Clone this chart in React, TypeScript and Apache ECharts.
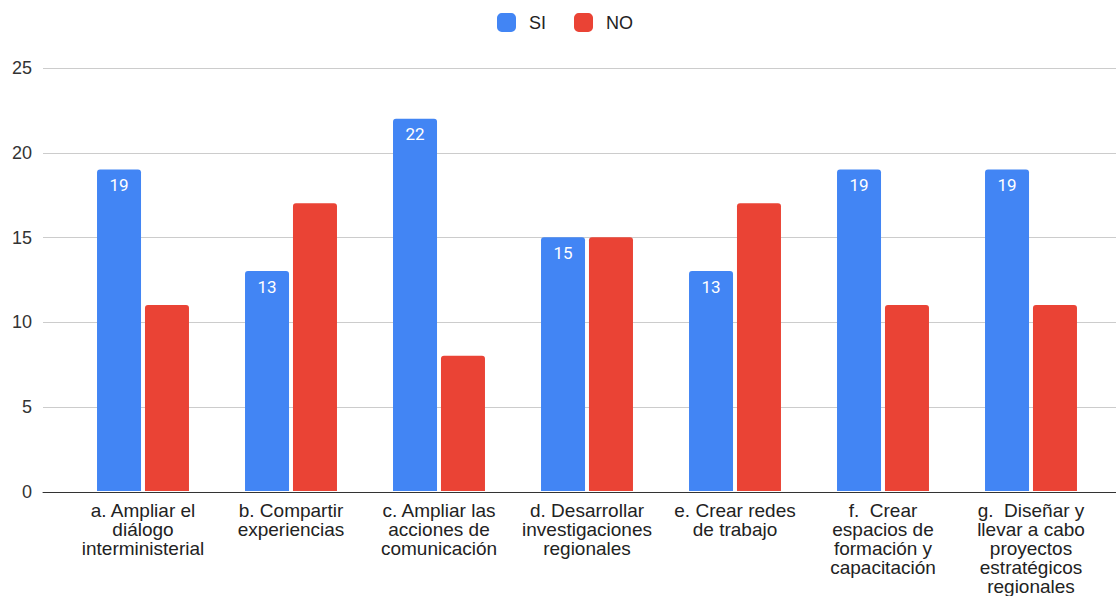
import React, { useEffect, useRef } from "react";
import * as echarts from "echarts";

const categories = [
  "a. Ampliar el\ndiálogo\ninterministerial",
  "b. Compartir\nexperiencias",
  "c. Ampliar las\nacciones de\ncomunicación",
  "d. Desarrollar\ninvestigaciones\nregionales",
  "e. Crear redes\nde trabajo",
  "f.  Crear\nespacios de\nformación y\ncapacitación",
  "g.  Diseñar y\nllevar a cabo\nproyectos\nestratégicos\nregionales",
];
const siValues = [19, 13, 22, 15, 13, 19, 19];
const noValues = [11, 17, 8, 15, 17, 11, 11];
const seriesNames = ["SI", "NO"];

export default function App() {
  const ref = useRef<HTMLDivElement>(null);
  useEffect(() => {
    document.body.style.margin = "0";
    const chart = echarts.init(ref.current!, null, { renderer: "svg" });
    const font = "Liberation Sans, Arial, sans-serif";
    chart.setOption({
      animation: false,
      backgroundColor: "#ffffff",
      legend: {
        top: 8,
        left: 492,
        itemWidth: 19,
        itemHeight: 19,
        itemGap: 28,
        icon: "roundRect",
        textStyle: { fontFamily: font, fontSize: 18, color: "#222", padding: [0, 0, 0, 8] },
        data: seriesNames,
      },
      grid: [
        { left: 43, right: 0, top: 68, bottom: 104 },
        { left: 69, right: 11, top: 68, bottom: 104 },
      ],
      xAxis: [
        {
          type: "category",
          gridIndex: 0,
          data: ["x"],
          axisLine: { show: true, lineStyle: { color: "#333", width: 1 } },
          axisTick: { show: false },
          axisLabel: { show: false },
        },
        {
          type: "category",
          gridIndex: 1,
          data: categories,
          axisLine: { show: false },
          axisTick: { show: false },
          axisLabel: {
            interval: 0,
            margin: 10,
            fontFamily: font,
            fontSize: 19,
            lineHeight: 19,
            color: "#222",
          },
        },
      ],
      yAxis: [
        {
          type: "value",
          gridIndex: 0,
          min: 0,
          max: 25,
          interval: 5,
          axisLine: { show: false },
          axisTick: { show: false },
          axisLabel: { fontFamily: font, fontSize: 18, color: "#333", margin: 11 },
          splitLine: { lineStyle: { color: "#cccccc", width: 1 } },
        },
        {
          type: "value",
          gridIndex: 1,
          min: 0,
          max: 25,
          interval: 5,
          show: false,
          splitLine: { show: false },
        },
      ],
      series: [
        {
          name: seriesNames[0],
          type: "bar",
          xAxisIndex: 1,
          yAxisIndex: 1,
          data: siValues,
          barWidth: 44,
          barGap: "9%",
          itemStyle: { color: "#4285F4", borderRadius: [3, 3, 0, 0] },
          label: {
            show: true,
            position: "insideTop",
            distance: 7,
            color: "#ffffff",
            fontFamily: "Roboto, sans-serif",
            fontSize: 17,
          },
        },
        {
          name: seriesNames[1],
          type: "bar",
          xAxisIndex: 1,
          yAxisIndex: 1,
          data: noValues,
          barWidth: 44,
          barGap: "9%",
          itemStyle: { color: "#EA4335", borderRadius: [3, 3, 0, 0] },
        },
      ],
    });
    return () => chart.dispose();
  }, []);
  return <div ref={ref} style={{ width: 1116, height: 596 }} />;
}
